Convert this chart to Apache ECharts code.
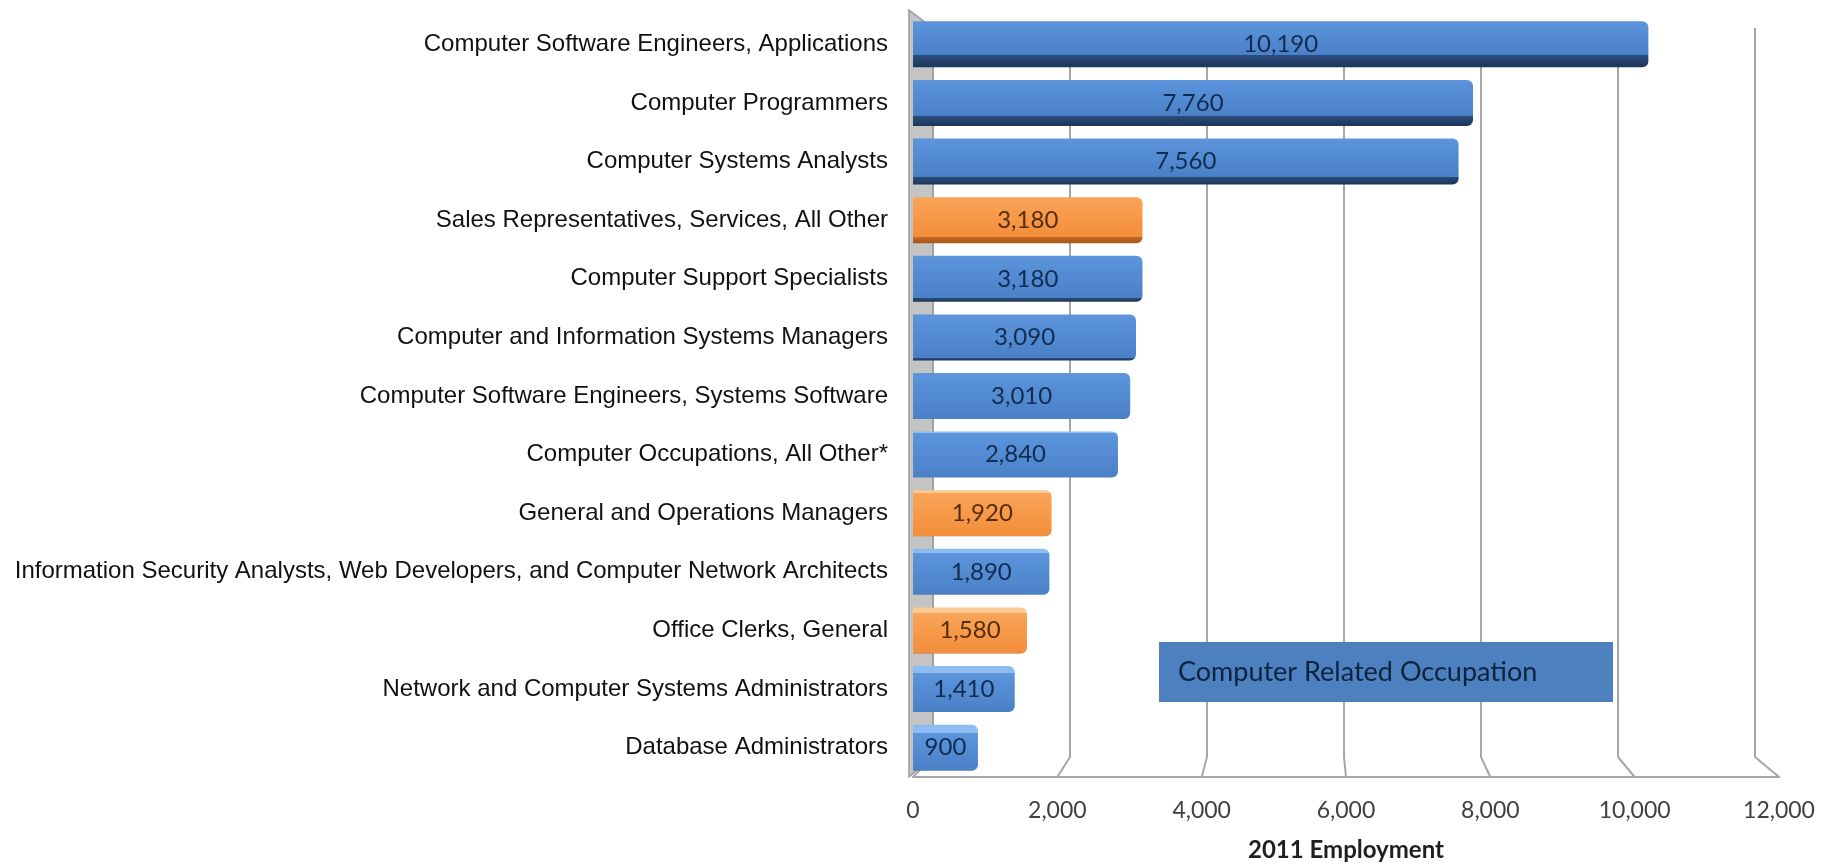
<!DOCTYPE html>
<html><head><meta charset="utf-8">
<script src="https://cdn.jsdelivr.net/npm/echarts@6/dist/echarts.min.js"></script>
<style>html,body{margin:0;padding:0;background:#fff}#c{width:1822px;height:867px}</style>
</head><body><div id="c"></div>
<script>
const categories = [
  'Computer Software Engineers, Applications',
  'Computer Programmers',
  'Computer Systems Analysts',
  'Sales Representatives, Services, All Other',
  'Computer Support Specialists',
  'Computer and Information Systems Managers',
  'Computer Software Engineers, Systems Software',
  'Computer Occupations, All Other*',
  'General and Operations Managers',
  'Information Security Analysts, Web Developers, and Computer Network Architects',
  'Office Clerks, General',
  'Network and Computer Systems Administrators',
  'Database Administrators'
];
const values = [10190, 7760, 7560, 3180, 3180, 3090, 3010, 2840, 1920, 1890, 1580, 1410, 900];
const computerRelated = [true, true, true, false, true, true, true, true, false, true, false, true, true];
const axisMin = 0, axisMax = 12000, axisStep = 2000;
const legendLabel = 'Computer Related Occupation';
const axisTitle = '2011 Employment';

const fmt = v => Number(v).toLocaleString('en-US');
const palettes = {
  blue:   {top: '#8cbcf0', face1: '#5c95dc', face2: '#4a80c6', dark1: '#2b4d7d', dark2: '#1c3559'},
  orange: {top: '#fcc894', face1: '#f9a458', face2: '#f38e3a', dark1: '#c56a24', dark2: '#a65519'}
};
function makeFill(p, i, n) {
  const mid = (n - 1) / 2;
  const d = Math.max(0, 0.26 * (1 - i / mid));          // visible underside (upper bars)
  const t = Math.max(0, 0.18 * (i - mid) / mid);        // visible top face (lower bars)
  const stops = [];
  if (t > 0.001) { stops.push({offset: 0, color: p.top}, {offset: t, color: p.top}); }
  stops.push({offset: t + 0.001, color: p.face1});
  stops.push({offset: Math.max(t + 0.002, 1 - d - 0.001), color: p.face2});
  if (d > 0.001) { stops.push({offset: 1 - d, color: p.dark1}, {offset: 1, color: p.dark2}); }
  else { stops.push({offset: 1, color: p.dark1}); }
  return new echarts.graphic.LinearGradient(0, 0, 0, 1, stops);
}

const chart = echarts.init(document.getElementById('c'));
const gridColor = '#a6a6a6';
const option = {
  animation: false,
  backgroundColor: '#ffffff',
  grid: [
    {left: 933, right: 67, top: 28, bottom: 110},
    {left: 913, right: 43, top: 15, bottom: 89}
  ],
  legend: {
    data: [{name: legendLabel, icon: 'none'}],
    selectedMode: false,
    left: 1159, top: 642,
    itemWidth: 0, itemHeight: 32,
    padding: [14, 0, 14, 14],
    backgroundColor: '#4d80bf',
    textStyle: {fontFamily: 'Lato', fontSize: 27, color: '#0c2340', width: 435, height: 32, lineHeight: 32}
  },
  xAxis: [
    {gridIndex: 0, type: 'value', min: axisMin, max: axisMax, interval: axisStep,
     axisLine: {show: false}, axisTick: {show: false}, axisLabel: {show: false},
     splitLine: {show: true, lineStyle: {color: gridColor, width: 2}}},
    {gridIndex: 1, type: 'value', min: axisMin, max: axisMax, interval: axisStep,
     axisLine: {show: true, lineStyle: {color: gridColor, width: 2}}, axisTick: {show: false},
     splitLine: {show: false},
     axisLabel: {fontFamily: 'Lato', fontSize: 23, color: '#404040', margin: 22, formatter: fmt},
     name: axisTitle, nameLocation: 'middle', nameGap: 61,
     nameTextStyle: {fontFamily: 'Lato', fontWeight: 'bold', fontSize: 24, color: '#1f1f1f'}}
  ],
  yAxis: [
    {gridIndex: 0, type: 'category', data: categories, inverse: true, show: false},
    {gridIndex: 1, type: 'category', data: categories, inverse: true,
     axisLine: {show: false}, axisTick: {show: false}, splitLine: {show: false},
     axisLabel: {fontFamily: 'Liberation Sans', fontSize: 24, color: '#111111', margin: 25}}
  ],
  series: [{
    name: legendLabel,
    type: 'bar', xAxisIndex: 1, yAxisIndex: 1,
    barWidth: 46, z: 5,
    data: values.map((v, i) => ({
      value: v,
      itemStyle: {color: makeFill(computerRelated[i] ? palettes.blue : palettes.orange, i, values.length),
                  borderRadius: [0, 6, 6, 0]},
      label: {color: computerRelated[i] ? '#102b50' : '#552c0c'}
    })),
    label: {show: true, position: 'inside', fontFamily: 'Lato', fontSize: 24, formatter: p => fmt(p.value)}
  }]
};
chart.setOption(option);

// decorative 3D side wall and floor, positioned from the two axes
const rectBack = chart.getModel().getComponent('grid', 0).coordinateSystem.getRect();
const rectFront = chart.getModel().getComponent('grid', 1).coordinateSystem.getRect();
const backBottom = rectBack.y + rectBack.height;
const frontBottom = rectFront.y + rectFront.height;
const elems = [];
const xb0 = chart.convertToPixel({xAxisIndex: 0}, axisMin);
const xf0 = chart.convertToPixel({xAxisIndex: 1}, axisMin);
elems.push({type: 'polygon', z: 1, silent: true,
  shape: {points: [[xf0 - 4, rectFront.y - 5], [xb0, rectBack.y], [xb0, backBottom], [xf0 - 4, frontBottom]]},
  style: {fill: '#c4c4c4', stroke: '#9a9a9a', lineWidth: 1.5}});
for (let v = axisMin; v <= axisMax; v += axisStep) {
  const xb = chart.convertToPixel({xAxisIndex: 0}, v);
  const xf = chart.convertToPixel({xAxisIndex: 1}, v);
  elems.push({type: 'line', z: 1, silent: true,
    shape: {x1: xb, y1: backBottom, x2: xf, y2: frontBottom},
    style: {stroke: gridColor, lineWidth: 2}});
}
chart.setOption({graphic: elems});
</script>
</body></html>
